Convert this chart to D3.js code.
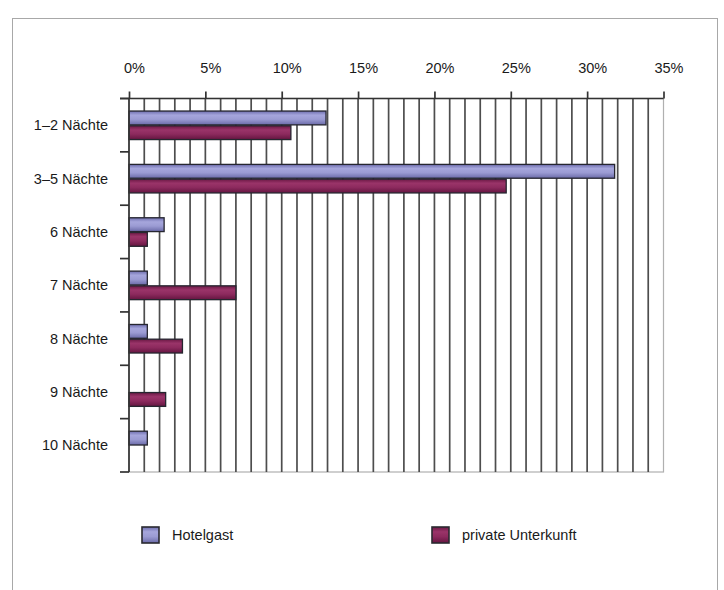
<!DOCTYPE html>
<html>
<head>
<meta charset="utf-8">
<script src="https://cdn.jsdelivr.net/npm/d3@7"></script>
<style>
  html, body { margin: 0; padding: 0; background: #fff; }
  svg { display: block; font-family: "Liberation Sans", Arial, Helvetica, sans-serif; }
</style>
</head>
<body>
<svg id="chart" width="724" height="590"></svg>
<script>
// Aufenthaltsdauer nach Unterkunftsart (Anteil in %)
const categories = ["1–2 Nächte", "3–5 Nächte", "6 Nächte", "7 Nächte", "8 Nächte", "9 Nächte", "10 Nächte"];
const seriesNames = ["Hotelgast", "private Unterkunft"];
const hotelgast = [12.9, 31.8, 2.3, 1.2, 1.2, 0, 1.2];
const privateUnterkunft = [10.6, 24.7, 1.2, 7.0, 3.5, 2.4, 0];
const tickValues = [0, 5, 10, 15, 20, 25, 30, 35];

const svg = d3.select("#chart");
const W = 724, H = 590;

// outer frame
svg.append("rect")
  .attr("x", 12.5).attr("y", 18.5)
  .attr("width", 705).attr("height", H)
  .attr("fill", "#fff").attr("stroke", "#a8a8a8").attr("stroke-width", 1);

const plot = { left: 129, right: 663.5, top: 98.5, bottom: 472 };

const x = d3.scaleLinear().domain([0, 35]).range([plot.left, plot.right]);
const y = d3.scaleBand().domain(categories).range([plot.top, plot.bottom]).padding(0);
const ySub = d3.scaleBand().domain(seriesNames)
  .range([y.bandwidth() * 0.235, y.bandwidth() * 0.77]).paddingInner(0.06);

const defs = svg.append("defs");
function barGradient(id, stops) {
  const g = defs.append("linearGradient").attr("id", id)
    .attr("x1", 0).attr("y1", 0).attr("x2", 0).attr("y2", 1);
  stops.forEach(([o, c]) => g.append("stop").attr("offset", o).attr("stop-color", c));
}
barGradient("gHotel", [[0, "#6e6eae"], [0.3, "#a6a6dc"], [0.6, "#9b9bd3"], [1, "#6a6aa8"]]);
barGradient("gPriv", [[0, "#6a1844"], [0.3, "#9a3469"], [0.6, "#8d2a5e"], [1, "#641540"]]);
const fills = { "Hotelgast": "url(#gHotel)", "private Unterkunft": "url(#gPriv)" };

// plot area border (light)
svg.append("rect")
  .attr("x", plot.left).attr("y", plot.top)
  .attr("width", plot.right - plot.left).attr("height", plot.bottom - plot.top)
  .attr("fill", "none").attr("stroke", "#b0b0b0").attr("stroke-width", 1.2);

// vertical gridlines every 1 %
svg.append("g").selectAll("line")
  .data(d3.range(1, 35))
  .join("line")
  .attr("x1", d => x(d)).attr("x2", d => x(d))
  .attr("y1", plot.top).attr("y2", plot.bottom)
  .attr("stroke", "#4d4d4d").attr("stroke-width", 1.7);

// bars
const rows = categories.map((c, i) => ({
  cat: c,
  vals: [
    { s: "Hotelgast", v: hotelgast[i] },
    { s: "private Unterkunft", v: privateUnterkunft[i] }
  ]
}));

const grp = svg.append("g").selectAll("g")
  .data(rows)
  .join("g")
  .attr("transform", d => `translate(0,${y(d.cat)})`);

grp.selectAll("rect")
  .data(d => d.vals.filter(e => e.v > 0))
  .join("rect")
  .attr("x", x(0))
  .attr("y", d => ySub(d.s))
  .attr("width", d => x(d.v) - x(0))
  .attr("height", ySub.bandwidth())
  .attr("fill", d => fills[d.s])
  .attr("stroke", "#262630").attr("stroke-width", 1.3);

// top axis
const axisTop = d3.axisTop(x)
  .tickValues(tickValues)
  .tickSize(7)
  .tickFormat(d => d + "%");
const gx = svg.append("g")
  .attr("transform", `translate(0,${plot.top})`)
  .call(axisTop);
gx.select(".domain").remove();
gx.selectAll(".tick line").attr("stroke", "#333").attr("stroke-width", 1.7);
gx.selectAll(".tick text")
  .attr("y", -25.5).attr("dy", 0).attr("dx", 5)
  .attr("font-size", 14.5).attr("fill", "#1a1a1a")
  .attr("font-family", "'Liberation Sans', Arial, sans-serif");
svg.append("line")
  .attr("x1", 120).attr("x2", plot.right)
  .attr("y1", plot.top).attr("y2", plot.top)
  .attr("stroke", "#333").attr("stroke-width", 1.7);

// left axis with category boundary ticks
svg.append("line")
  .attr("x1", plot.left).attr("x2", plot.left)
  .attr("y1", plot.top).attr("y2", plot.bottom)
  .attr("stroke", "#333").attr("stroke-width", 1.7);
const bounds = categories.map(c => y(c)).concat([plot.bottom]);
svg.append("g").selectAll("line")
  .data(bounds)
  .join("line")
  .attr("x1", 120).attr("x2", plot.left)
  .attr("y1", d => d).attr("y2", d => d)
  .attr("stroke", "#333").attr("stroke-width", 1.7);

// category labels
svg.append("g").selectAll("text")
  .data(categories)
  .join("text")
  .attr("x", 108)
  .attr("y", d => y(d) + y.bandwidth() / 2)
  .attr("dy", "0.35em")
  .attr("text-anchor", "end")
  .attr("font-size", 14.5)
  .attr("fill", "#1a1a1a")
  .text(d => d);

// legend
const legendX = [142, 432];
const lg = svg.append("g").selectAll("g")
  .data(seriesNames)
  .join("g")
  .attr("transform", (d, i) => `translate(${legendX[i]},527)`);
lg.append("rect")
  .attr("width", 17).attr("height", 16)
  .attr("fill", d => fills[d])
  .attr("stroke", "#2a2a30").attr("stroke-width", 1.6);
lg.append("text")
  .attr("x", 30).attr("y", 12.5)
  .attr("font-size", 14.5).attr("fill", "#1a1a1a")
  .text(d => d);
</script>
</body>
</html>
